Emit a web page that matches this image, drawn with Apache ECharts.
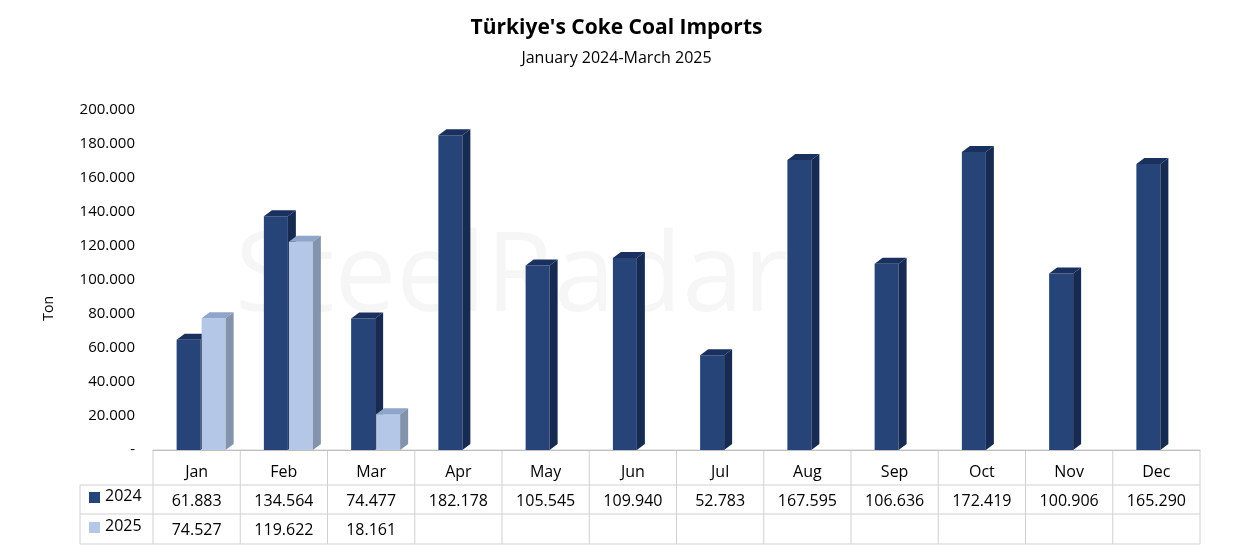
<!DOCTYPE html>
<html><head><meta charset="utf-8">
<script src="https://cdn.jsdelivr.net/npm/echarts@6/dist/echarts.min.js"></script>
<style>html,body{margin:0;background:#fff}#main{width:1233px;height:554px}</style>
</head><body><div id="main"></div>
<script>
var months=['Jan','Feb','Mar','Apr','May','Jun','Jul','Aug','Sep','Oct','Nov','Dec'];
var v2024=[61883,134564,74477,182178,105545,109940,52783,167595,106636,172419,100906,165290];
var v2025=[74527,119622,18161,null,null,null,null,null,null,null,null,null];

function fmt(v){
  if(v==null) return '';
  return v.toString().replace(/\B(?=(\d{3})+(?!\d))/g,'.');
}

// 3D bar drawn from scale coordinates
function bar3d(off,front,top,side){
  return function(params,api){
    var v=api.value(1);
    if(v==null||isNaN(v)) return;
    var p=api.coord([api.value(0),v]);
    var b=api.coord([api.value(0),0]);
    var w=24,dx=8,dy=6;
    var x=p[0]+off, yt=p[1]-5, yb=b[1];
    return {type:'group',children:[
      {type:'rect',shape:{x:x,y:yt,width:w,height:yb-yt},style:{fill:front}},
      {type:'polygon',shape:{points:[[x,yt],[x+dx,yt-dy],[x+w+dx,yt-dy],[x+w,yt]]},style:{fill:top}},
      {type:'polygon',shape:{points:[[x+w,yt],[x+w+dx,yt-dy],[x+w+dx,yb-dy],[x+w,yb]]},style:{fill:side}}
    ]};
  };
}

var chart=echarts.init(document.getElementById('main'));
var option={
  backgroundColor:'#fff',
  animation:false,
  title:{text:"Türkiye's Coke Coal Imports",subtext:'January 2024-March 2025',left:'center',top:13,
    textStyle:{fontFamily:'Open Sans',fontWeight:'bold',fontSize:21,color:'#000'},
    subtextStyle:{fontFamily:'Open Sans',fontSize:16,color:'#000'},itemGap:11},
  graphic:[
    {type:'text',left:235,top:225,z:-1,style:{text:'SteelRadar',font:'110px Open Sans',fill:'rgba(0,0,0,0.035)'}},
    {type:'text',left:42,top:296,rotation:Math.PI/2,style:{text:'Ton',font:'14px Open Sans',fill:'#000'}},
    {type:'rect',shape:{x:89,y:492,width:11,height:11},style:{fill:'#264478'}},
    {type:'text',left:105,top:488,style:{text:'2024',font:'16px Open Sans',fill:'#000'}},
    {type:'rect',shape:{x:89,y:522,width:11,height:11},style:{fill:'#b4c7e7'}},
    {type:'text',left:105,top:518,style:{text:'2025',font:'16px Open Sans',fill:'#000'}}
  ],
  grid:{left:153,right:33,top:110,bottom:104},
  xAxis:{type:'category',data:months,
    axisLine:{lineStyle:{color:'#bfbfbf'}},axisTick:{show:false},
    axisLabel:{interval:0,margin:8,fontFamily:'Open Sans',fontSize:16,color:'#000',lineHeight:29,
      formatter:function(val,i){return val+'\n'+fmt(v2024[i])+'\n'+fmt(v2025[i]);}}},
  yAxis:{type:'value',min:0,max:200000,interval:20000,
    axisLine:{show:false},axisTick:{show:false},splitLine:{show:false},
    axisLabel:{fontFamily:'Open Sans',fontSize:15,color:'#000',margin:18,
      formatter:function(v){return v===0?'-':fmt(v);}}},
  series:[
    {type:'custom',name:'2024',renderItem:bar3d(-20,'#264478','#1a3160','#172a52'),
      data:months.map(function(m,i){return [i,v2024[i]];})},
    {type:'custom',name:'2025',renderItem:bar3d(5,'#b4c7e7','#8fa5c9','#8393ab'),
      data:months.map(function(m,i){return [i,v2025[i]];})}
  ]
};
chart.setOption(option);

// table grid lines
var x0=chart.convertToPixel({xAxisIndex:0},0), x1=chart.convertToPixel({xAxisIndex:0},1);
var bw=x1-x0, L=x0-bw/2, R=L+bw*12;
var lines=[];
var ys=[450,485,514,544];
lines.push({type:'line',shape:{x1:L,y1:ys[0],x2:R,y2:ys[0]}});
lines.push({type:'line',shape:{x1:80,y1:ys[1],x2:R,y2:ys[1]}});
lines.push({type:'line',shape:{x1:80,y1:ys[2],x2:R,y2:ys[2]}});
lines.push({type:'line',shape:{x1:80,y1:ys[3],x2:R,y2:ys[3]}});
lines.push({type:'line',shape:{x1:80,y1:ys[1],x2:80,y2:ys[3]}});
for(var i=0;i<=12;i++){lines.push({type:'line',shape:{x1:L+bw*i,y1:ys[0],x2:L+bw*i,y2:ys[3]}});}
lines.forEach(function(l){l.style={stroke:'#d0d0d0',lineWidth:1};});
chart.setOption({graphic:option.graphic.concat(lines)});
</script>
</body></html>
